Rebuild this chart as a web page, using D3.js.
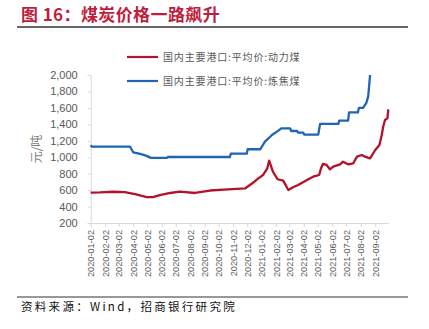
<!DOCTYPE html>
<html><head><meta charset="utf-8">
<script src="https://cdn.jsdelivr.net/npm/d3@7"></script>
<style>
html,body{margin:0;padding:0;background:#fff;}
svg{display:block;}
</style></head>
<body>
<svg id="c" width="429" height="329"></svg>
<script>
const title = "图 16：煤炭价格一路飙升";
const source = "资料来源：Wind，招商银行研究院";
const yTitle = "元/吨";
const seriesNames = ["国内主要港口:平均价:动力煤", "国内主要港口:平均价:炼焦煤"];
const tickLabels = ["2020-01-02","2020-02-02","2020-03-02","2020-04-02","2020-05-02","2020-06-02","2020-07-02","2020-08-02","2020-09-02","2020-10-02","2020-11-02","2020-12-02","2021-01-02","2021-02-02","2021-03-02","2021-04-02","2021-05-02","2021-06-02","2021-07-02","2021-08-02","2021-09-02"];
const yTicks = [200,400,600,800,1000,1200,1400,1600,1800,2000];

// 动力煤
const thermal = [
["2020-01-02",569],["2020-01-22",572],["2020-02-19",580],["2020-03-15",575],["2020-04-06",550],
["2020-05-01",515],["2020-05-14",515],["2020-05-29",540],["2020-06-20",565],["2020-07-11",582],
["2020-08-12",565],["2020-09-13",595],["2020-10-22",610],["2020-11-28",622],["2020-12-13",683],
["2020-12-25",740],["2021-01-05",784],["2021-01-14",865],["2021-01-18",958],["2021-01-26",824],
["2021-02-05",732],["2021-02-17",715],["2021-02-28",601],["2021-03-10",634],["2021-03-21",662],
["2021-04-09",723],["2021-04-22",763],["2021-05-05",784],["2021-05-09",865],["2021-05-13",918],
["2021-05-21",906],["2021-05-28",853],["2021-06-04",885],["2021-06-19",914],["2021-06-25",946],
["2021-07-06",914],["2021-07-17",926],["2021-07-25",1007],["2021-08-04",1027],["2021-08-11",1007],
["2021-08-22",987],["2021-09-02",1088],["2021-09-11",1149],["2021-09-16",1270],["2021-09-19",1371],
["2021-09-23",1453],["2021-09-28",1473],["2021-09-30",1583]
];
// 炼焦煤
const coking = [
["2020-01-02",1145],["2020-01-04",1130],["2020-03-26",1130],["2020-04-02",1060],["2020-04-17",1040],
["2020-04-29",1020],["2020-05-10",992],["2020-06-13",992],["2020-06-15",1003],["2020-10-26",1003],
["2020-10-28",1043],["2020-12-01",1043],["2020-12-03",1097],["2020-12-30",1097],["2021-01-09",1190],
["2021-01-24",1270],["2021-02-06",1320],["2021-02-13",1350],["2021-03-04",1350],["2021-03-06",1319],
["2021-03-19",1319],["2021-03-21",1298],["2021-04-01",1298],["2021-04-03",1275],["2021-05-03",1275],
["2021-05-07",1405],["2021-06-15",1405],["2021-06-17",1445],["2021-07-06",1445],["2021-07-08",1545],
["2021-07-27",1545],["2021-07-29",1600],["2021-08-07",1600],["2021-08-14",1660],["2021-08-18",1740],
["2021-08-22",2000]
];
const colors = ["#B3112C", "#1F64B5"];
const domainDates = ["2020-01-02","2021-09-30"];

const parse = d3.timeParse("%Y-%m-%d");
const svg = d3.select("#c");
const font = "'Noto Sans CJK SC', 'Liberation Sans', Arial, sans-serif";

const x = d3.scaleTime().domain(domainDates.map(parse)).range([90.7, 388.3]);
const y = d3.scaleLinear().domain([200, 2000]).range([223, 75]);

// Title
svg.append("text").attr("x", 21).attr("y", 21).text(title)
  .attr("font-family", font).attr("font-weight", "bold").attr("font-size", 17)
  .attr("letter-spacing", 0.4).attr("xml:space", "preserve")
  .attr("fill", "#BE1E3C");
svg.append("line").attr("x1", 17).attr("x2", 408).attr("y1", 27).attr("y2", 27)
  .attr("stroke", "#333").attr("stroke-width", 1.5);

// Y axis
const ya = svg.append("g").attr("transform", "translate(90.7,0)")
  .call(d3.axisLeft(y).tickValues(yTicks).tickSize(3).tickPadding(10).tickFormat(d3.format(",")));
ya.select(".domain").attr("stroke", "#d9d9d9");
ya.selectAll(".tick line").attr("stroke", "#d9d9d9");
ya.selectAll(".tick text").attr("fill", "#595959").attr("font-size", 11)
  .attr("font-family", "'Liberation Sans', Arial, sans-serif");

// X axis
const xa = svg.append("g").attr("transform", "translate(0,223)")
  .call(d3.axisBottom(x).tickValues(tickLabels.map(parse)).tickSize(4).tickSizeOuter(0)
    .tickFormat(d3.timeFormat("%Y-%m-%d")));
xa.select(".domain").attr("stroke", "#d9d9d9");
xa.selectAll(".tick line").attr("stroke", "#d9d9d9");
xa.selectAll(".tick text").attr("fill", "#595959").attr("font-size", 9.2)
  .attr("font-family", "'Liberation Sans', Arial, sans-serif")
  .attr("transform", "rotate(-90)").attr("text-anchor", "end")
  .attr("x", -7).attr("y", 0).attr("dy", "0.35em");

// Y title
svg.append("text").attr("transform", "translate(41,149) rotate(-90)")
  .attr("text-anchor", "middle").attr("font-family", font).attr("font-size", 12)
  .attr("fill", "#7f7f7f").text(yTitle);

// Clip
svg.append("clipPath").attr("id", "clip").append("rect")
  .attr("x", 88).attr("y", y(2000) - 1).attr("width", 310).attr("height", 160);

const line = d3.line().x(d => x(parse(d[0]))).y(d => y(d[1]));
const g = svg.append("g").attr("clip-path", "url(#clip)");
[thermal, coking].forEach((s, i) => {
  g.append("path").datum(s).attr("d", line).attr("fill", "none")
    .attr("stroke", colors[i]).attr("stroke-width", 2.3).attr("stroke-linejoin", "round");
});

// Legend
const legY = [57, 81];
seriesNames.forEach((n, i) => {
  svg.append("line").attr("x1", 127).attr("x2", 158).attr("y1", legY[i]).attr("y2", legY[i])
    .attr("stroke", colors[i]).attr("stroke-width", 2.2);
  svg.append("text").attr("x", 163).attr("y", legY[i]).attr("dy", "0.35em")
    .attr("font-family", font).attr("font-size", 10).attr("letter-spacing", 0.85)
    .attr("fill", "#595959").text(n);
});

// Source
svg.append("line").attr("x1", 17).attr("x2", 408).attr("y1", 297).attr("y2", 297)
  .attr("stroke", "#333").attr("stroke-width", 1.2);
svg.append("text").attr("x", 21).attr("y", 311).text(source)
  .attr("font-family", font).attr("font-size", 11.5).attr("letter-spacing", 2.3)
  .attr("fill", "#111");
</script>
</body></html>
